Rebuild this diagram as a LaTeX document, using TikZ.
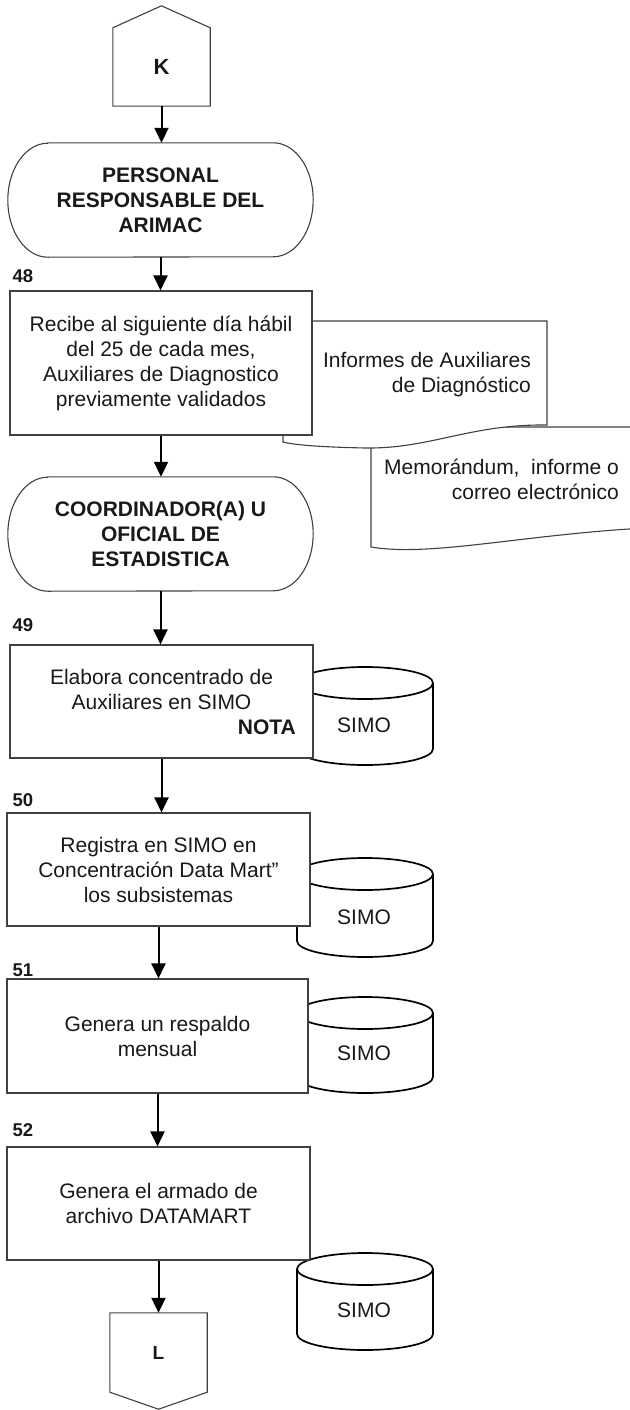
\documentclass[tikz,border=0pt]{standalone}
\usepackage{fontspec}
\setmainfont{Liberation Sans}
\usetikzlibrary{arrows.meta}
\begin{document}
\begin{tikzpicture}[x=1pt,y=-1pt,
  every node/.style={font=\fontsize{21}{25}\selectfont, text=black!90, inner sep=0pt},
  thinline/.style={draw=black!75, line width=1.1pt},
  procbox/.style={thinline, fill=white, rectangle, align=center},
  termtext/.style={align=center, font=\fontsize{21}{25}\selectfont\bfseries},
  flow/.style={draw=black, line width=2pt, -{Triangle[width=14pt,length=15pt]}},
  stepnum/.style={font=\fontsize{18.5}{20}\selectfont\bfseries},
  cyl/.style={draw=black, line width=1.7pt, fill=white},
  docshape/.style={thinline, fill=white},
]
\useasboundingbox (0,0) rectangle (629,1410);

% ---- connector K
\node[minimum width=97pt, minimum height=78pt, font=\fontsize{22}{24}\selectfont\bfseries] (K) at (161.5,67) {K};
\draw[thinline] (K.south west) -- (K.north west) -- ([yshift=22pt]K.north) -- (K.north east) -- (K.south east) -- cycle;

% ---- terminal 1
\node[termtext, minimum width=305pt, minimum height=114pt] (t1) at (160.5,200) {PERSONAL\\RESPONSABLE DEL\\ARIMAC};
\draw[thinline] ([xshift=40pt]t1.north west) -- ([xshift=-40pt]t1.north east)
  arc[start angle=90, end angle=-90, x radius=40pt, y radius=57pt]
  -- ([xshift=40pt]t1.south west)
  arc[start angle=270, end angle=90, x radius=40pt, y radius=57pt] -- cycle;

% ---- documents
\draw[docshape] (371,448) -- (371,547) .. controls (430,557) and (520,535) .. (645,528) -- (645,427) -- (371,427) -- cycle;
\draw[docshape] (300,321) -- (547,321) -- (547,425) .. controls (470,424) and (430,449) .. (365,448) .. controls (320,447) and (295,445) .. (283,442) -- (283,430) -- (300,430) -- cycle;
\node[anchor=east, align=right] (d1) at (531,374.5) {Informes de Auxiliares\\de Diagnóstico};
\node[anchor=east, align=right] (d2) at (619,479.5) {Memorándum,\ \ informe o\\correo electrónico};

% ---- step 48
\node[stepnum] (n48) at (23,276) {48};
\node[procbox, minimum width=302pt, minimum height=144pt] (b48) at (161,363) {Recibe al siguiente día hábil\\del 25 de cada mes,\\Auxiliares de Diagnostico\\previamente validados};

% ---- terminal 2
\node[termtext, minimum width=305pt, minimum height=114pt] (t2) at (160.5,534) {COORDINADOR(A) U\\OFICIAL DE\\ESTADISTICA};
\draw[thinline] ([xshift=40pt]t2.north west) -- ([xshift=-40pt]t2.north east)
  arc[start angle=90, end angle=-90, x radius=40pt, y radius=57pt]
  -- ([xshift=40pt]t2.south west)
  arc[start angle=270, end angle=90, x radius=40pt, y radius=57pt] -- cycle;

% ---- cylinders (behind boxes)
\draw[cyl] (297,683) -- (297,749) arc[start angle=180,end angle=360,x radius=68pt,y radius=16pt] -- (433,683) arc[start angle=0,end angle=180,x radius=68pt,y radius=16pt] -- cycle;
\draw[cyl] (297,683) arc[start angle=180,end angle=360,x radius=68pt,y radius=16pt];
\node (s1) at (364,725) {SIMO};

\draw[cyl] (297,874) -- (297,941) arc[start angle=180,end angle=360,x radius=68pt,y radius=16pt] -- (433,874) arc[start angle=0,end angle=180,x radius=68pt,y radius=16pt] -- cycle;
\draw[cyl] (297,874) arc[start angle=180,end angle=360,x radius=68pt,y radius=16pt];
\node (s2) at (364,917) {SIMO};

\draw[cyl] (297,1013) -- (297,1077) arc[start angle=180,end angle=360,x radius=68pt,y radius=16pt] -- (433,1013) arc[start angle=0,end angle=180,x radius=68pt,y radius=16pt] -- cycle;
\draw[cyl] (297,1013) arc[start angle=180,end angle=360,x radius=68pt,y radius=16pt];
\node (s3) at (364,1053) {SIMO};

\draw[cyl] (297,1269) -- (297,1334) arc[start angle=180,end angle=360,x radius=68pt,y radius=16pt] -- (433,1269) arc[start angle=0,end angle=180,x radius=68pt,y radius=16pt] -- cycle;
\draw[cyl] (297,1269) arc[start angle=180,end angle=360,x radius=68pt,y radius=16pt];
\node (s4) at (364,1310) {SIMO};

% ---- step 49
\node[stepnum] (n49) at (23,625) {49};
\node[procbox, minimum width=303pt, minimum height=113pt] (b49) at (161.5,701.5) {};
\node[align=center] (x49) at (161.5,689.5) {Elabora concentrado de\\Auxiliares en SIMO};
\node[anchor=east, font=\fontsize{21}{25}\selectfont\bfseries] (nota) at (296,727) {NOTA};

% ---- step 50
\node[stepnum] (n50) at (23,800) {50};
\node[procbox, minimum width=303pt, minimum height=113pt] (b50) at (158.5,869.5) {Registra en SIMO en\\Concentración Data Mart”\\los subsistemas};

% ---- step 51
\node[stepnum] (n51) at (23,970) {51};
\node[procbox, minimum width=301pt, minimum height=114pt] (b51) at (157.5,1036) {Genera un respaldo\\mensual};

% ---- step 52
\node[stepnum] (n52) at (23,1130) {52};
\node[procbox, minimum width=303pt, minimum height=113pt] (b52) at (158.5,1203.5) {Genera el armado de\\archivo DATAMART};

% ---- connector L
\node[minimum width=97pt, minimum height=79pt, font=\fontsize{19}{22}\selectfont\bfseries] (L) at (158.5,1352.5) {L};
\draw[thinline] (L.north west) -- (L.north east) -- (L.south east) -- ([yshift=-17pt]L.south) -- (L.south west) -- cycle;

% ---- flow arrows
\draw[flow] (K.south) -- (K.south |- t1.north);
\draw[flow] (t1.south) -- (t1.south |- b48.north);
\draw[flow] (b48.south) -- (b48.south |- t2.north);
\draw[flow] (t2.south) -- (t2.south |- b49.north);
\draw[flow] (b49.south) -- (b49.south |- b50.north);
\draw[flow] (b50.south) -- (b50.south |- b51.north);
\draw[flow] (b51.south) -- (b51.south |- b52.north);
\draw[flow] (b52.south) -- (b52.south |- L.north);
\end{tikzpicture}
\end{document}
